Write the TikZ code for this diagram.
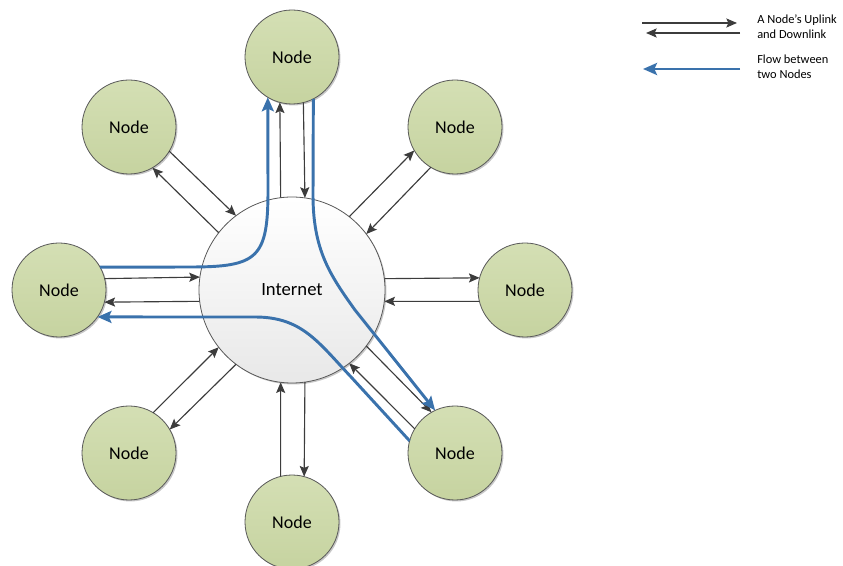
\documentclass[tikz,border=0pt]{standalone}
\usepackage{fontspec}
\setmainfont{Carlito}
\usetikzlibrary{arrows.meta,shadows}
\definecolor{peertop}{RGB}{212,223,180}
\definecolor{peerbot}{RGB}{198,211,160}
\definecolor{flowblue}{RGB}{58,114,172}
\definecolor{linkgray}{RGB}{60,60,60}
\begin{document}
\begin{tikzpicture}[x=0.75pt,y=-0.75pt,
  softshadow/.style={drop shadow={shadow xshift=1.1pt,shadow yshift=-1.1pt,opacity=0.22,fill=black}},
  peer/.style={circle,draw=black!65,line width=0.6pt,top color=peertop,bottom color=peerbot,
    minimum size=70.5pt,inner sep=0pt,outer sep=0pt,font=\fontsize{13.5}{16}\selectfont,softshadow},
  hub/.style={circle,draw=black!65,line width=0.6pt,top color=white,bottom color=black!9,
    minimum size=139.5pt,inner sep=0pt,outer sep=0pt,font=\fontsize{14}{17}\selectfont,softshadow},
  link/.style={draw=linkgray,line width=0.85pt,-{Stealth[length=8pt,width=6.8pt,inset=1.5pt]}},
  flow/.style={draw=flowblue,line width=2.2pt,-{Stealth[length=10.5pt,width=9pt,inset=2pt]}},
  legtext/.style={anchor=west,align=left,font=\fontsize{9.3}{11.3}\selectfont,inner sep=0pt},
]
\useasboundingbox (0,0) rectangle (843,566);

% hub
\node[hub] (inet) at (292,290) {Internet};

% peers around the hub
\node[peer] (nT)  at (292,57)  {Node};
\node[peer] (nTR) at (455,127) {Node};
\node[peer] (nR)  at (525,290) {Node};
\node[peer] (nBR) at (455,453) {Node};
\node[peer] (nB)  at (292,522) {Node};
\node[peer] (nBL) at (129,453) {Node};
\node[peer] (nL)  at (59,290)  {Node};
\node[peer] (nTL) at (129,127) {Node};

% uplink and downlink of every peer
\foreach \n/\a [evaluate=\a as \pu using \a+194.2,
                evaluate=\a as \hu using \a-7.1,
                evaluate=\a as \hd using \a+7.1,
                evaluate=\a as \pd using \a+165.8] in
    {nT/90,nTR/45,nR/0,nBR/-45,nB/-90,nBL/-135,nL/180,nTL/135}{
  \draw[link] (\n.\pu) -- (inet.\hu);
  \draw[link] (inet.\hd) -- (\n.\pd);
}

% flows between two peers
\draw[flow] (nL.29.3) -- (190,267) .. controls (258,267) and (268,258) .. (268,190) -- (nT.239.3);
\draw[flow] (nT.-63.5) -- (313,195) .. controls (313,250) and (330,275) .. (355,310) -- (nBR.115);
\draw[flow] (nBR.165.7) -- (352,378) .. controls (318,342) and (302,317) .. (255,317) -- (nL.-35);

% legend
\coordinate (lgA1) at (642,23);
\coordinate (lgA2) at (737,23);
\coordinate (lgB1) at (740,33);
\coordinate (lgB2) at (646,33);
\coordinate (lgC1) at (740,69);
\coordinate (lgC2) at (643,69);
\draw[link] (lgA1) -- (lgA2);
\draw[link] (lgB1) -- (lgB2);
\draw[flow] (lgC1) -- (lgC2);
\node[legtext] (lgT1) at (757,27) {A Node’s Uplink\\and Downlink};
\node[legtext] (lgT2) at (757,67) {Flow between\\two Nodes};
\end{tikzpicture}
\end{document}
